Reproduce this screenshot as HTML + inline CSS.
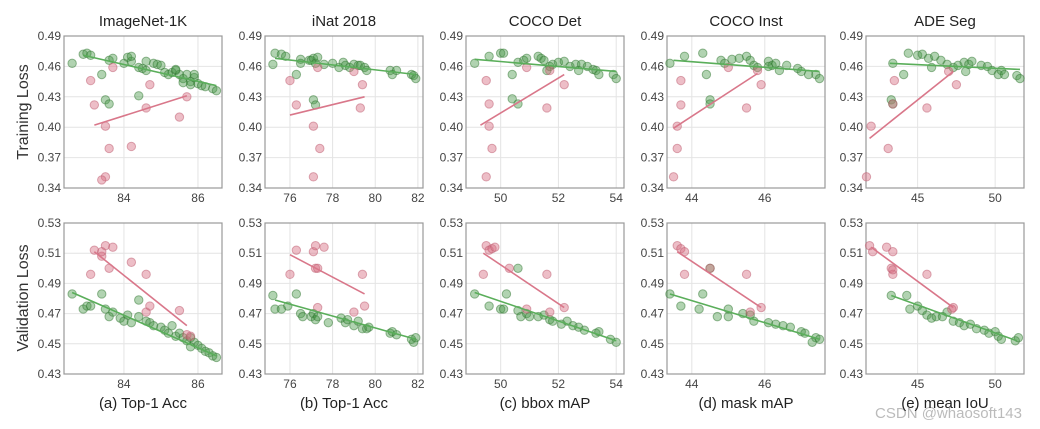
<!DOCTYPE html>
<html><head><meta charset="utf-8">
<style>
html,body{margin:0;padding:0;background:#fff;}
svg{display:block;font-family:"Liberation Sans","DejaVu Sans",sans-serif;}
</style></head>
<body>
<svg id="chart" width="1040" height="429" viewBox="0 0 1040 429" xmlns="http://www.w3.org/2000/svg">
<text x="28" y="112" transform="rotate(-90 28 112)" text-anchor="middle" font-size="16" fill="#333">Training Loss</text>
<text x="28" y="298" transform="rotate(-90 28 298)" text-anchor="middle" font-size="16" fill="#333">Validation Loss</text>
<text x="1022" y="418" text-anchor="end" font-size="15" fill="#bbb">CSDN @whaosoft143</text>
</svg>
<script>
const titles = ["ImageNet-1K","iNat 2018","COCO Det","COCO Inst","ADE Seg"];
const xlabels = ["(a) Top-1 Acc","(b) Top-1 Acc","(c) bbox mAP","(d) mask mAP","(e) mean IoU"];
const xDomains = [[82.38,86.65],[74.83,82.24],[48.8,54.27],[43.32,47.65],[41.67,51.86]];
const xTicks = [[84,86],[76,78,80,82],[50,52,54],[44,46],[45,50]];
const yTrainTicks = [0.34,0.37,0.40,0.43,0.46,0.49];
const yValTicks = [0.43,0.45,0.47,0.49,0.51,0.53];

const trainGreen = [
[[82.6,.463],[82.9,.472],[83.0,.473],[83.1,.471],[83.4,.452],[83.5,.427],[83.6,.423],[83.6,.466],[83.7,.468],[84.0,.463],[84.1,.469],[84.2,.465],[84.2,.470],[84.4,.459],[84.4,.431],[84.5,.458],[84.6,.465],[84.6,.456],[84.8,.463],[84.9,.462],[85.0,.461],[85.1,.454],[85.2,.452],[85.3,.454],[85.4,.456],[85.5,.452],[85.6,.448],[85.7,.452],[85.8,.445],[85.8,.442],[85.9,.449],[86.0,.443],[86.1,.441],[86.2,.44],[86.4,.438],[86.5,.436],[85.4,.457],[85.6,.444],[85.9,.452]],
[[75.2,.462],[75.3,.473],[75.6,.472],[75.8,.47],[76.3,.452],[76.5,.467],[76.5,.463],[76.9,.466],[77.0,.466],[77.1,.468],[77.2,.463],[77.3,.469],[77.6,.462],[78.0,.463],[78.3,.459],[78.5,.464],[78.6,.461],[78.8,.459],[79.0,.462],[79.2,.461],[79.3,.461],[79.5,.459],[79.6,.456],[80.7,.456],[80.8,.452],[81.0,.456],[81.7,.452],[81.8,.451],[81.9,.448],[77.1,.427],[77.2,.422]],
[[49.1,.463],[49.6,.470],[50.0,.473],[50.1,.473],[50.4,.452],[50.6,.464],[50.8,.466],[50.9,.468],[51.3,.470],[51.4,.468],[51.5,.466],[51.6,.456],[51.7,.46],[51.8,.462],[52.0,.464],[52.2,.465],[52.4,.46],[52.6,.462],[52.7,.456],[52.8,.462],[53.0,.460],[53.2,.457],[53.3,.456],[53.4,.452],[53.9,.452],[54.0,.448],[50.4,.428],[50.6,.423]],
[[43.4,.463],[43.8,.470],[44.3,.473],[44.4,.452],[44.8,.466],[44.9,.463],[45.1,.467],[45.3,.468],[45.5,.470],[45.6,.466],[45.7,.461],[45.8,.459],[46.1,.465],[46.2,.461],[46.3,.463],[46.4,.456],[46.6,.461],[46.9,.458],[47.0,.455],[47.2,.452],[47.4,.452],[47.5,.448],[46.1,.46],[44.5,.427],[44.5,.423]],
[[43.4,.463],[44.4,.473],[45.0,.471],[45.3,.472],[45.7,.468],[46.1,.470],[45.9,.459],[46.5,.466],[46.9,.462],[47.3,.459],[47.6,.461],[48.0,.464],[48.3,.462],[48.5,.465],[48.1,.455],[49.1,.461],[49.5,.46],[49.8,.456],[50.2,.452],[50.4,.456],[50.6,.452],[51.4,.451],[51.6,.448],[44.1,.452],[43.3,.427],[43.4,.423]]
];
const trainRed = [
[[83.1,.446],[83.2,.422],[83.5,.401],[83.5,.351],[83.4,.348],[83.6,.379],[84.2,.381],[84.6,.419],[84.7,.442],[85.5,.41],[85.7,.43],[83.7,.459]],
[[76.0,.446],[76.3,.422],[77.1,.401],[77.4,.379],[77.1,.351],[79.3,.419],[79.4,.442],[77.3,.459],[79.0,.455]],
[[49.5,.446],[49.6,.423],[49.6,.401],[49.7,.379],[49.5,.351],[51.6,.419],[52.2,.442],[50.9,.459],[51.7,.456]],
[[43.7,.446],[43.7,.422],[43.6,.401],[43.6,.379],[43.5,.351],[45.5,.419],[45.9,.442],[45.0,.459],[45.8,.456]],
[[42.0,.401],[43.1,.379],[41.7,.351],[43.5,.446],[45.6,.419],[47.5,.442],[47.0,.455],[43.4,.423]]
];
const trainGreenFit = [[[82.9,.471],[86.5,.441]],[[75.3,.468],[81.9,.452]],[[49.1,.467],[54,.455]],[[43.5,.466],[47.5,.455]],[[43.2,.463],[51.6,.457]]];
const trainRedFit = [[[83.2,.402],[85.7,.431]],[[76,.412],[79.5,.43]],[[49.3,.402],[52.2,.452]],[[43.5,.399],[45.8,.453]],[[41.9,.389],[47.3,.455]]];

const valGreen = [
[[82.6,.483],[82.9,.473],[83.0,.475],[83.1,.475],[83.4,.483],[83.5,.473],[83.6,.468],[83.7,.471],[83.9,.467],[84.0,.465],[84.1,.469],[84.2,.464],[84.4,.479],[84.4,.468],[84.6,.465],[84.7,.464],[84.8,.462],[85.0,.461],[85.1,.459],[85.2,.457],[85.3,.462],[85.4,.455],[85.5,.457],[85.6,.454],[85.7,.452],[85.8,.454],[85.9,.451],[86.0,.449],[86.1,.447],[86.2,.445],[86.3,.444],[86.4,.442],[86.5,.441],[85.8,.448]],
[[75.2,.482],[75.3,.473],[75.6,.473],[75.9,.475],[76.3,.483],[76.5,.47],[76.6,.468],[77.0,.468],[77.1,.47],[77.2,.466],[77.3,.468],[77.8,.464],[78.4,.467],[78.6,.464],[78.7,.466],[79.0,.462],[79.2,.465],[79.4,.46],[79.6,.46],[79.7,.461],[80.7,.457],[80.8,.458],[81.0,.456],[81.7,.453],[81.8,.451],[81.9,.454]],
[[49.1,.483],[49.6,.475],[50.0,.473],[50.1,.473],[50.2,.483],[50.6,.472],[50.7,.468],[50.9,.470],[51.0,.468],[51.3,.468],[51.5,.469],[51.7,.466],[51.8,.465],[52.1,.463],[52.3,.465],[52.5,.462],[52.7,.461],[52.9,.459],[53.3,.457],[53.4,.458],[53.8,.453],[54.0,.451],[50.6,.5]],
[[43.4,.483],[43.7,.475],[44.2,.473],[44.3,.483],[44.7,.468],[45.0,.473],[45.0,.468],[45.4,.47],[45.6,.469],[45.7,.465],[46.1,.464],[46.3,.463],[46.5,.462],[46.7,.461],[47.0,.458],[47.1,.457],[47.4,.454],[47.5,.453],[47.3,.451],[44.5,.5]],
[[43.3,.482],[44.3,.482],[44.5,.473],[45.0,.475],[45.3,.472],[45.6,.469],[45.9,.467],[46.2,.468],[46.6,.468],[46.9,.471],[47.3,.465],[47.7,.464],[48.0,.462],[48.4,.463],[48.8,.460],[49.3,.459],[49.6,.457],[50.0,.458],[50.2,.455],[50.4,.453],[51.3,.452],[51.5,.454]]
];
const valRed = [
[[83.1,.496],[83.2,.512],[83.4,.508],[83.5,.515],[83.7,.514],[83.6,.500],[83.4,.511],[84.2,.504],[84.6,.496],[84.6,.471],[84.7,.475],[85.5,.472],[85.7,.456],[85.8,.455]],
[[76.0,.496],[76.3,.512],[77.1,.511],[77.2,.515],[77.6,.514],[77.2,.500],[77.3,.5],[79.4,.496],[79.0,.471],[79.5,.475],[77.3,.474]],
[[49.4,.496],[49.5,.515],[49.6,.512],[49.7,.513],[49.8,.514],[50.3,.5],[51.6,.496],[50.9,.473],[51.7,.471],[52.2,.474]],
[[43.6,.515],[43.7,.513],[43.8,.511],[43.8,.496],[44.5,.5],[45.5,.496],[45.9,.474],[45.6,.471]],
[[41.9,.515],[42.1,.511],[43.0,.514],[43.4,.511],[43.3,.5],[43.4,.496],[43.4,.499],[45.6,.496],[47.3,.474],[47.2,.473]]
];
const valGreenFit = [[[82.6,.484],[86.5,.442]],[[75.3,.479],[81.9,.453]],[[49.1,.484],[54,.452]],[[43.4,.483],[47.5,.453]],[[43.3,.482],[51.4,.452]]];
const valRedFit = [[[83.2,.511],[85.7,.462]],[[76,.509],[79.5,.483]],[[49.4,.51],[52.2,.474]],[[43.6,.511],[45.9,.474]],[[42.0,.514],[47.3,.474]]];

const NS = "http://www.w3.org/2000/svg";
const svg = document.getElementById("chart");
const panelLeft = [64,265,466,667,866];
const PW = 158;
const rows = [{top:36,bottom:188,yd:[0.34,0.49],ticks:yTrainTicks,g:trainGreen,r:trainRed,gf:trainGreenFit,rf:trainRedFit,key:"train"},
              {top:223,bottom:374,yd:[0.43,0.53],ticks:yValTicks,g:valGreen,r:valRed,gf:valGreenFit,rf:valRedFit,key:"val"}];
function mk(tag, attrs, parent){
  const e = document.createElementNS(NS, tag);
  for (const k in attrs) e.setAttribute(k, attrs[k]);
  (parent||svg).appendChild(e);
  return e;
}
for (let p=0;p<5;p++){
  const L = panelLeft[p], R = L+PW, xd = xDomains[p];
  const xs = v => L + (v-xd[0])/(xd[1]-xd[0])*PW;
  const t = mk("text",{x:L+PW/2,y:26,"text-anchor":"middle","font-size":"15",fill:"#222"});
  t.textContent = titles[p];
  
  
  const xl = mk("text",{x:L+PW/2,y:408,"text-anchor":"middle","font-size":"15",fill:"#222"});
  xl.textContent = xlabels[p];
  
  
  rows.forEach(row=>{
    const ys = v => row.bottom - (v-row.yd[0])/(row.yd[1]-row.yd[0])*(row.bottom-row.top);
    const g = mk("g",{});
    
    
    xTicks[p].forEach(tv=>{
      const x = xs(tv);
      mk("line",{x1:x,x2:x,y1:row.top,y2:row.bottom,stroke:"#e4e4e4","stroke-width":1},g);
      const tl = mk("text",{x:x,y:row.bottom+14,"text-anchor":"middle","font-size":"12",fill:"#444"},g);
      tl.textContent = tv;
      
      
    });
    row.ticks.forEach(tv=>{
      const y = ys(tv);
      mk("line",{x1:L,x2:R,y1:y,y2:y,stroke:"#e4e4e4","stroke-width":1},g);
      const tl = mk("text",{x:L-3,y:y+4,"text-anchor":"end","font-size":"12",fill:"#444"},g);
      tl.textContent = tv.toFixed(2);
      
      
    });
    const fr = mk("rect",{x:L,y:row.top,width:PW,height:row.bottom-row.top,fill:"none",stroke:"#999","stroke-width":1.2},g);
    
    
    row.g[p].forEach(d=>{
      const c = mk("circle",{cx:xs(d[0]),cy:ys(d[1]),r:4.2,fill:"rgba(70,150,70,0.42)",stroke:"rgba(50,120,50,0.5)","stroke-width":1},g);
      
      
    });
    row.r[p].forEach(d=>{
      const c = mk("circle",{cx:xs(d[0]),cy:ys(d[1]),r:4.2,fill:"rgba(215,110,130,0.45)",stroke:"rgba(190,90,110,0.5)","stroke-width":1},g);
      
      
    });
    const gf = row.gf[p], rf = row.rf[p];
    const gl = mk("line",{x1:xs(gf[0][0]),y1:ys(gf[0][1]),x2:xs(gf[1][0]),y2:ys(gf[1][1]),stroke:"#5aae5a","stroke-width":1.6},g);
    
    
    const rl = mk("line",{x1:xs(rf[0][0]),y1:ys(rf[0][1]),x2:xs(rf[1][0]),y2:ys(rf[1][1]),stroke:"#d9778a","stroke-width":1.6},g);
    
    
  });
}
</script>
</body></html>
